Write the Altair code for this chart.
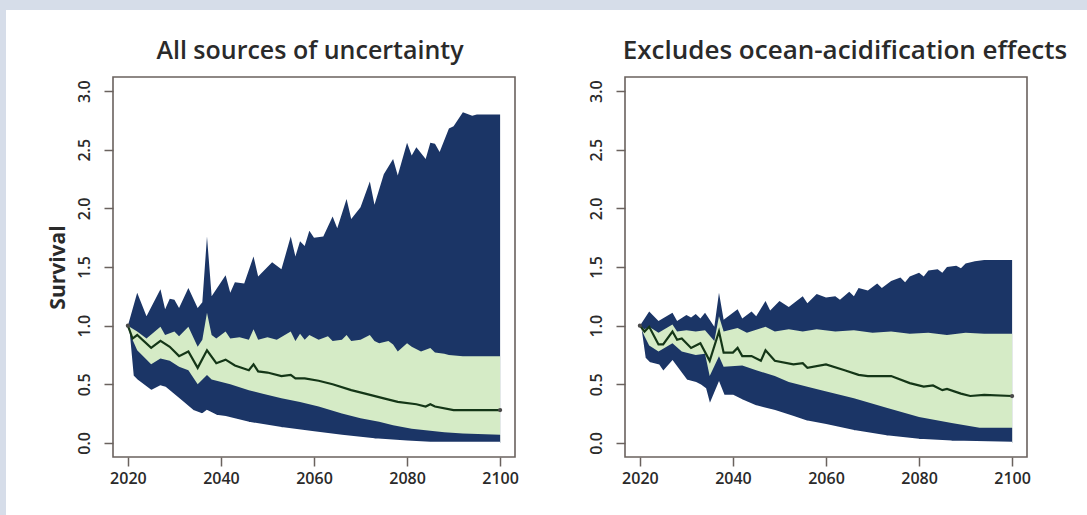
import altair as alt
import pandas as pd

# ---- Panel 1: all sources of uncertainty ----
all_top_years = [2020, 2022, 2024, 2027, 2028, 2029, 2030, 2031, 2033, 2035, 2036, 2037, 2038,
                 2041, 2042, 2043, 2045, 2047, 2048, 2051, 2053, 2055, 2056, 2057, 2058, 2059,
                 2060, 2062, 2064, 2065, 2067, 2068, 2070, 2072, 2073, 2075, 2077, 2078, 2080,
                 2081, 2082, 2084, 2085, 2086, 2087, 2089, 2090, 2092, 2094, 2095, 2100]
all_top = [1.00, 1.28, 1.08, 1.31, 1.14, 1.23, 1.22, 1.15, 1.32, 1.15, 1.20, 1.76, 1.25,
           1.43, 1.28, 1.37, 1.36, 1.59, 1.42, 1.54, 1.48, 1.76, 1.59, 1.72, 1.68, 1.81,
           1.75, 1.76, 1.93, 1.83, 2.08, 1.91, 2.01, 2.23, 2.03, 2.29, 2.42, 2.28, 2.56,
           2.45, 2.52, 2.42, 2.56, 2.55, 2.48, 2.68, 2.70, 2.82, 2.79, 2.80, 2.80]

all_inner_top_years = [2020, 2022, 2024, 2027, 2028, 2030, 2031, 2033, 2035, 2036, 2037, 2038,
                       2039, 2041, 2042, 2044, 2046, 2047, 2048, 2050, 2052, 2055, 2056, 2057,
                       2058, 2059, 2061, 2063, 2064, 2066, 2067, 2068, 2070, 2072, 2073, 2074,
                       2076, 2077, 2078, 2080, 2081, 2083, 2085, 2086, 2088, 2089, 2092, 2100]
all_inner_top = [1.00, 0.95, 0.89, 0.99, 0.92, 0.95, 0.91, 0.99, 0.82, 0.88, 1.11, 0.92,
                 0.89, 0.95, 0.89, 0.90, 0.88, 0.97, 0.88, 0.90, 0.88, 0.95, 0.87, 0.93,
                 0.88, 0.92, 0.88, 0.91, 0.87, 0.88, 0.92, 0.87, 0.88, 0.92, 0.87, 0.85,
                 0.87, 0.84, 0.78, 0.85, 0.82, 0.78, 0.81, 0.77, 0.76, 0.75, 0.74, 0.74]

all_inner_bot_years = [2020, 2021, 2022, 2025, 2027, 2029, 2031, 2033, 2035, 2037, 2038, 2042,
                       2046, 2049, 2053, 2057, 2061, 2066, 2070, 2074, 2077, 2081, 2088, 2092,
                       2100]
all_inner_bot = [1.00, 0.88, 0.79, 0.67, 0.72, 0.70, 0.65, 0.62, 0.50, 0.58, 0.54, 0.50,
                 0.45, 0.42, 0.38, 0.35, 0.31, 0.25, 0.21, 0.18, 0.15, 0.12, 0.09, 0.08,
                 0.07]

all_bot_years = [2020, 2021, 2022, 2025, 2027, 2028, 2031, 2034, 2036, 2037, 2039, 2041, 2046,
                 2053, 2060, 2066, 2073, 2080, 2085, 2100]
all_bot = [1.00, 0.57, 0.53, 0.44, 0.48, 0.47, 0.37, 0.27, 0.24, 0.27, 0.23, 0.22, 0.17,
           0.125, 0.09, 0.06, 0.03, 0.01, 0.00, 0.00]

all_med_years = [2020, 2021, 2022, 2025, 2027, 2029, 2031, 2033, 2035, 2037, 2039, 2041, 2043,
                 2046, 2047, 2048, 2050, 2053, 2055, 2056, 2058, 2061, 2064, 2068, 2071, 2075,
                 2078, 2082, 2084, 2085, 2086, 2090, 2100]
all_med = [1.00, 0.89, 0.92, 0.81, 0.87, 0.82, 0.74, 0.78, 0.64, 0.79, 0.68, 0.71, 0.66,
           0.62, 0.67, 0.61, 0.60, 0.57, 0.58, 0.55, 0.55, 0.53, 0.50, 0.45, 0.42, 0.38,
           0.35, 0.33, 0.31, 0.33, 0.31, 0.28, 0.28]

# ---- Panel 2: excludes ocean-acidification effects ----
noa_top_years = [2020, 2022, 2024, 2027, 2028, 2030, 2031, 2032, 2033, 2034, 2036, 2037, 2038,
                 2041, 2042, 2044, 2045, 2047, 2048, 2050, 2052, 2055, 2056, 2058, 2060, 2062,
                 2063, 2065, 2066, 2067, 2069, 2071, 2072, 2074, 2076, 2077, 2078, 2080, 2081,
                 2082, 2084, 2085, 2086, 2088, 2089, 2090, 2092, 2094, 2100]
noa_top = [1.00, 1.12, 1.04, 1.11, 1.04, 1.09, 1.07, 1.10, 1.06, 1.11, 0.99, 1.28, 1.05,
           1.14, 1.06, 1.12, 1.08, 1.21, 1.13, 1.21, 1.16, 1.25, 1.19, 1.27, 1.24, 1.25,
           1.22, 1.29, 1.25, 1.32, 1.30, 1.36, 1.32, 1.38, 1.41, 1.37, 1.42, 1.45, 1.42,
           1.47, 1.48, 1.45, 1.50, 1.51, 1.49, 1.53, 1.55, 1.56, 1.56]

noa_inner_top_years = [2020, 2021, 2022, 2024, 2027, 2028, 2030, 2032, 2034, 2036, 2037, 2038,
                       2041, 2043, 2047, 2049, 2052, 2055, 2058, 2062, 2066, 2070, 2074, 2078,
                       2082, 2086, 2090, 2094, 2100]
noa_inner_top = [1.00, 0.97, 0.99, 0.94, 1.01, 0.95, 0.96, 0.95, 0.96, 0.87, 1.08, 0.95,
                 0.98, 0.94, 0.99, 0.95, 0.97, 0.95, 0.97, 0.95, 0.96, 0.94, 0.95, 0.93,
                 0.94, 0.92, 0.94, 0.93, 0.93]

noa_inner_bot_years = [2020, 2021, 2022, 2024, 2027, 2029, 2032, 2034, 2035, 2037, 2038, 2042,
                       2045, 2049, 2052, 2056, 2059, 2066, 2073, 2080, 2087, 2093, 2100]
noa_inner_bot = [1.00, 0.91, 0.83, 0.78, 0.85, 0.78, 0.75, 0.76, 0.57, 0.74, 0.65, 0.66,
                 0.62, 0.57, 0.52, 0.48, 0.45, 0.38, 0.30, 0.22, 0.17, 0.13, 0.13]

noa_bot_years = [2020, 2021, 2022, 2024, 2025, 2027, 2030, 2032, 2033, 2034, 2035, 2037, 2038,
                 2040, 2042, 2045, 2049, 2053, 2056, 2060, 2066, 2073, 2080, 2087, 2100]
noa_bot = [1.00, 0.72, 0.68, 0.66, 0.60, 0.69, 0.53, 0.51, 0.49, 0.46, 0.31, 0.50, 0.40,
           0.40, 0.36, 0.31, 0.27, 0.22, 0.18, 0.15, 0.10, 0.055, 0.025, 0.01, 0.00]

noa_med_years = [2020, 2021, 2022, 2024, 2025, 2027, 2028, 2029, 2031, 2033, 2035, 2037, 2038,
                 2040, 2041, 2042, 2044, 2046, 2047, 2049, 2053, 2055, 2056, 2060, 2064, 2067,
                 2069, 2074, 2078, 2081, 2083, 2085, 2086, 2089, 2091, 2094, 2100]
noa_med = [1.00, 0.95, 0.99, 0.84, 0.84, 0.95, 0.88, 0.89, 0.81, 0.85, 0.70, 0.95, 0.77,
           0.77, 0.81, 0.74, 0.74, 0.70, 0.79, 0.70, 0.67, 0.68, 0.64, 0.67, 0.62, 0.58,
           0.57, 0.57, 0.51, 0.48, 0.49, 0.45, 0.46, 0.42, 0.40, 0.41, 0.40]

x_ticks = [2020, 2040, 2060, 2080, 2100]
y_ticks = [0.0, 0.5, 1.0, 1.5, 2.0, 2.5, 3.0]

NAVY = "#1b3566"
GREEN = "#d5ebc6"
MEDIAN = "#143617"
BOX = "#6a625e"
FRAME = "#d6dde9"
TEXT = "#2a2a2a"
FONT = "Open Sans"

PLOT_W = 402
PLOT_H = 380


def frame(years, values):
    return pd.DataFrame({"year": years, "value": values})


def panel(title, top, inner_top, inner_bot, bot, med, y_title, title_size, title_dx):
    x = alt.X(
        "year:Q",
        scale=alt.Scale(domain=[2016.8, 2103.2], nice=False, zero=False),
        axis=alt.Axis(values=x_ticks, format="d", title=None, grid=False, domain=False,
                      tickSize=9, tickColor=BOX, tickWidth=1.5, labelPadding=4,
                      labelFontSize=16, labelFontWeight=600, labelColor=TEXT,
                      labelFont=FONT),
    )
    y = alt.Y(
        "value:Q",
        scale=alt.Scale(domain=[-0.12, 3.12], nice=False, zero=False),
        axis=alt.Axis(values=y_ticks, format=".1f", title=y_title, grid=False, domain=False,
                      tickSize=9, tickColor=BOX, tickWidth=1.5, labelPadding=12,
                      labelAngle=270, labelAlign="center", labelBaseline="bottom",
                      labelFontSize=16, labelFontWeight=600, labelColor=TEXT,
                      labelFont=FONT,
                      titleFontSize=21, titleFontWeight="bold", titleColor=TEXT,
                      titleFont=FONT, titleAngle=270, titlePadding=8),
    )

    def fill(df, color):
        return alt.Chart(df).mark_area(color=color, opacity=1, interpolate="linear").encode(
            x=x, y=y, y2=alt.datum(0)
        )

    # the white layer below the lowest band also gets a white outline so that
    # no hairline of the filled layers beneath it shows along x = 2020
    cover = alt.Chart(frame(*bot)).mark_area(
        color="white", opacity=1, interpolate="linear", stroke="white", strokeWidth=2.5
    ).encode(x=x, y=y, y2=alt.datum(0))

    med_df = frame(*med)
    ends = med_df.iloc[[0, len(med_df) - 1]]
    layers = [
        fill(frame(*top), NAVY),
        fill(frame(*inner_top), GREEN),
        fill(frame(*inner_bot), NAVY),
        cover,
        alt.Chart(med_df).mark_line(color=MEDIAN, strokeWidth=2.2).encode(x=x, y=y),
        alt.Chart(ends).mark_point(filled=True, color="#4a4a4a", size=18, opacity=1).encode(x=x, y=y),
    ]
    return alt.layer(*layers).properties(
        width=PLOT_W,
        height=PLOT_H,
        title=alt.TitleParams(title, fontSize=title_size, fontWeight=600, font=FONT,
                              color=TEXT, anchor="middle", offset=13, dx=title_dx),
    )


# page frame: a thin blue-grey margin along the top and left edges, drawn from a
# tiny helper view that sits at the left of the row
one = pd.DataFrame({"k": [0]})
frame_top = alt.Chart(one).mark_rect(color=FRAME).encode(
    x=alt.value(-2), x2=alt.value(1085), y=alt.value(-77), y2=alt.value(-67)
)
frame_left = alt.Chart(one).mark_rect(color=FRAME).encode(
    x=alt.value(-2), x2=alt.value(4), y=alt.value(-77), y2=alt.value(438)
)
page_frame = alt.layer(frame_top, frame_left).properties(
    width=1, height=1, view=alt.ViewBackground(stroke=None)
)

left = panel("All sources of uncertainty",
             (all_top_years, all_top), (all_inner_top_years, all_inner_top),
             (all_inner_bot_years, all_inner_bot), (all_bot_years, all_bot),
             (all_med_years, all_med), "Survival", 25, -4)

right = panel("Excludes ocean-acidification effects",
              (noa_top_years, noa_top), (noa_inner_top_years, noa_inner_top),
              (noa_inner_bot_years, noa_inner_bot), (noa_bot_years, noa_bot),
              (noa_med_years, noa_med), None, 26, 19)

chart = alt.hconcat(page_frame, left, right, spacing=110, bounds="flush").properties(
    padding=0, background="white"
).configure_view(stroke=BOX, strokeWidth=1.6)

chart.save("out.html", embed_options={"renderer": "svg", "actions": False})
